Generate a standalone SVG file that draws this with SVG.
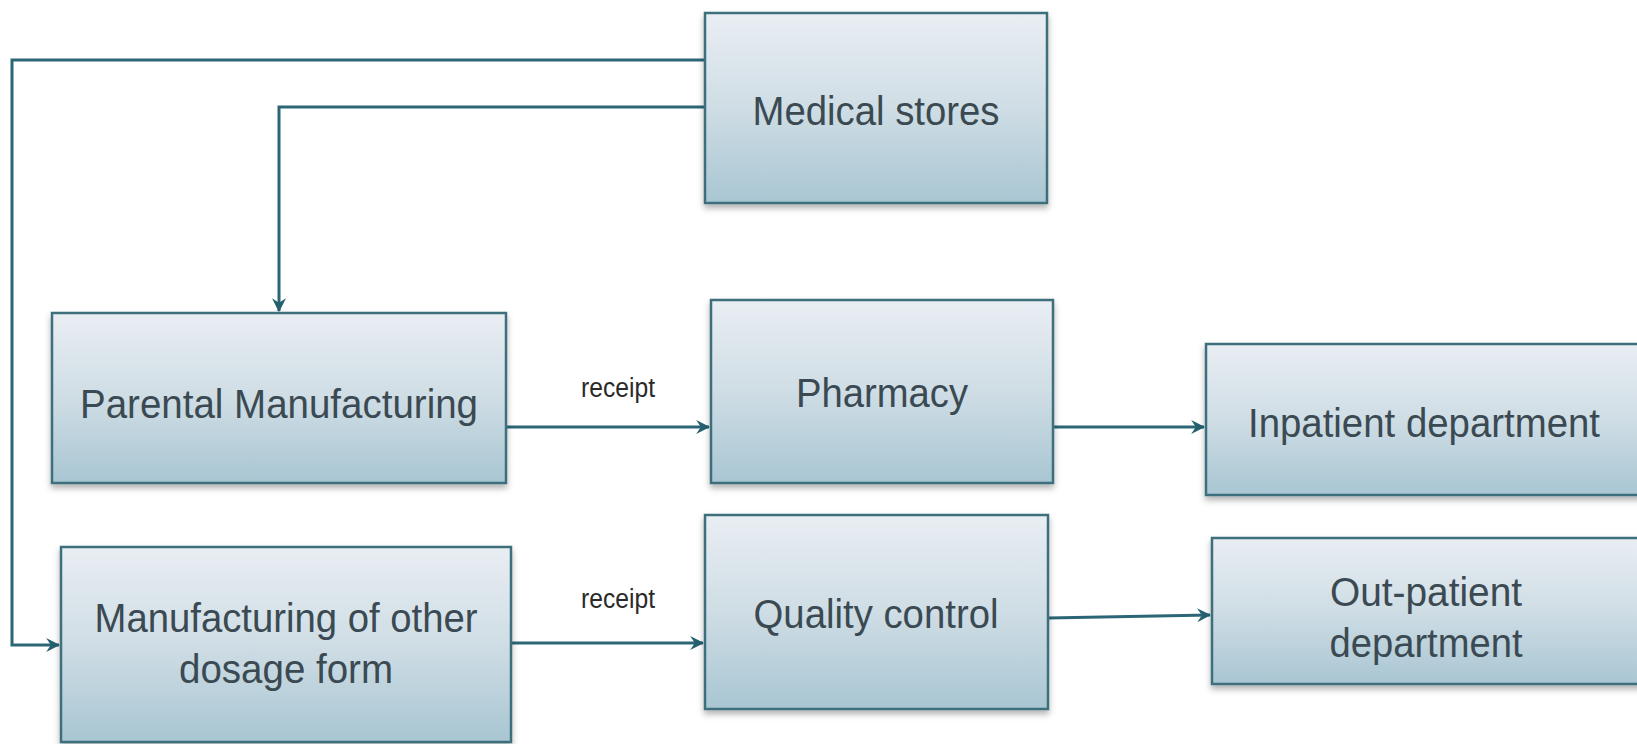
<svg xmlns="http://www.w3.org/2000/svg" width="1637" height="744" viewBox="0 0 1637 744">
<defs>
<linearGradient id="boxGrad" x1="0" y1="0" x2="0" y2="1">
<stop offset="0" stop-color="#e9eef3"/>
<stop offset="0.5" stop-color="#cfdde5"/>
<stop offset="1" stop-color="#a8c6d2"/>
</linearGradient>
<filter id="shadow" x="-5%" y="-5%" width="110%" height="120%">
<feDropShadow dx="0" dy="4" stdDeviation="3" flood-color="#000" flood-opacity="0.3"/>
</filter>
<marker id="arrow" markerUnits="userSpaceOnUse" markerWidth="14" markerHeight="14" viewBox="0 0 12 12" refX="11" refY="6" orient="auto">
<path d="M0,0 L12,6 L0,12 L4,6 Z" fill="#25606f"/>
</marker>
</defs>
<style>
.box{fill:url(#boxGrad);stroke:#3e6f7b;stroke-width:2.5;filter:url(#shadow)}
.lbl{font-family:"Liberation Sans",Arial,sans-serif;font-size:40px;fill:#3b4a52;text-anchor:middle}
.edge{fill:none;stroke:#2b6677;stroke-width:3}
.elbl{font-family:"Liberation Sans",Arial,sans-serif;font-size:27px;fill:#2a2a2a;text-anchor:middle}
</style>
<rect width="1637" height="744" fill="#ffffff"/>
<g id="connectors">
<path class="edge" d="M705,60 H12 V645 H59" marker-end="url(#arrow)"/>
<path class="edge" d="M705,107 H279 V311" marker-end="url(#arrow)"/>
<path class="edge" d="M506,427 H709" marker-end="url(#arrow)"/>
<path class="edge" d="M1053,427 H1204" marker-end="url(#arrow)"/>
<path class="edge" d="M511,643 H703" marker-end="url(#arrow)"/>
<path class="edge" d="M1048,618 L1210,615" marker-end="url(#arrow)"/>
<text class="elbl" x="618" y="397" textLength="74" lengthAdjust="spacingAndGlyphs">receipt</text>
<text class="elbl" x="618" y="608" textLength="74" lengthAdjust="spacingAndGlyphs">receipt</text>
</g>
<g id="medical-stores">
<rect class="box" x="705" y="13" width="342" height="190"/>
<text class="lbl" x="876" y="125" textLength="247" lengthAdjust="spacingAndGlyphs">Medical stores</text>
</g>
<g id="parental-manufacturing">
<rect class="box" x="52" y="313" width="454" height="170"/>
<text class="lbl" x="279" y="418" textLength="398" lengthAdjust="spacingAndGlyphs">Parental Manufacturing</text>
</g>
<g id="pharmacy">
<rect class="box" x="711" y="300" width="342" height="183"/>
<text class="lbl" x="882" y="407" textLength="172" lengthAdjust="spacingAndGlyphs">Pharmacy</text>
</g>
<g id="inpatient-department">
<rect class="box" x="1206" y="344" width="440" height="151"/>
<text class="lbl" x="1424" y="437" textLength="352" lengthAdjust="spacingAndGlyphs">Inpatient department</text>
</g>
<g id="manufacturing-other">
<rect class="box" x="61" y="547" width="450" height="195"/>
<text class="lbl" x="286" y="632" textLength="383" lengthAdjust="spacingAndGlyphs">Manufacturing of other</text>
<text class="lbl" x="286" y="683" textLength="214" lengthAdjust="spacingAndGlyphs">dosage form</text>
</g>
<g id="quality-control">
<rect class="box" x="705" y="515" width="343" height="194"/>
<text class="lbl" x="876" y="628" textLength="245" lengthAdjust="spacingAndGlyphs">Quality control</text>
</g>
<g id="out-patient-department">
<rect class="box" x="1212" y="538" width="434" height="146"/>
<text class="lbl" x="1426" y="606" textLength="192" lengthAdjust="spacingAndGlyphs">Out-patient</text>
<text class="lbl" x="1426" y="657" textLength="193" lengthAdjust="spacingAndGlyphs">department</text>
</g>
</svg>
